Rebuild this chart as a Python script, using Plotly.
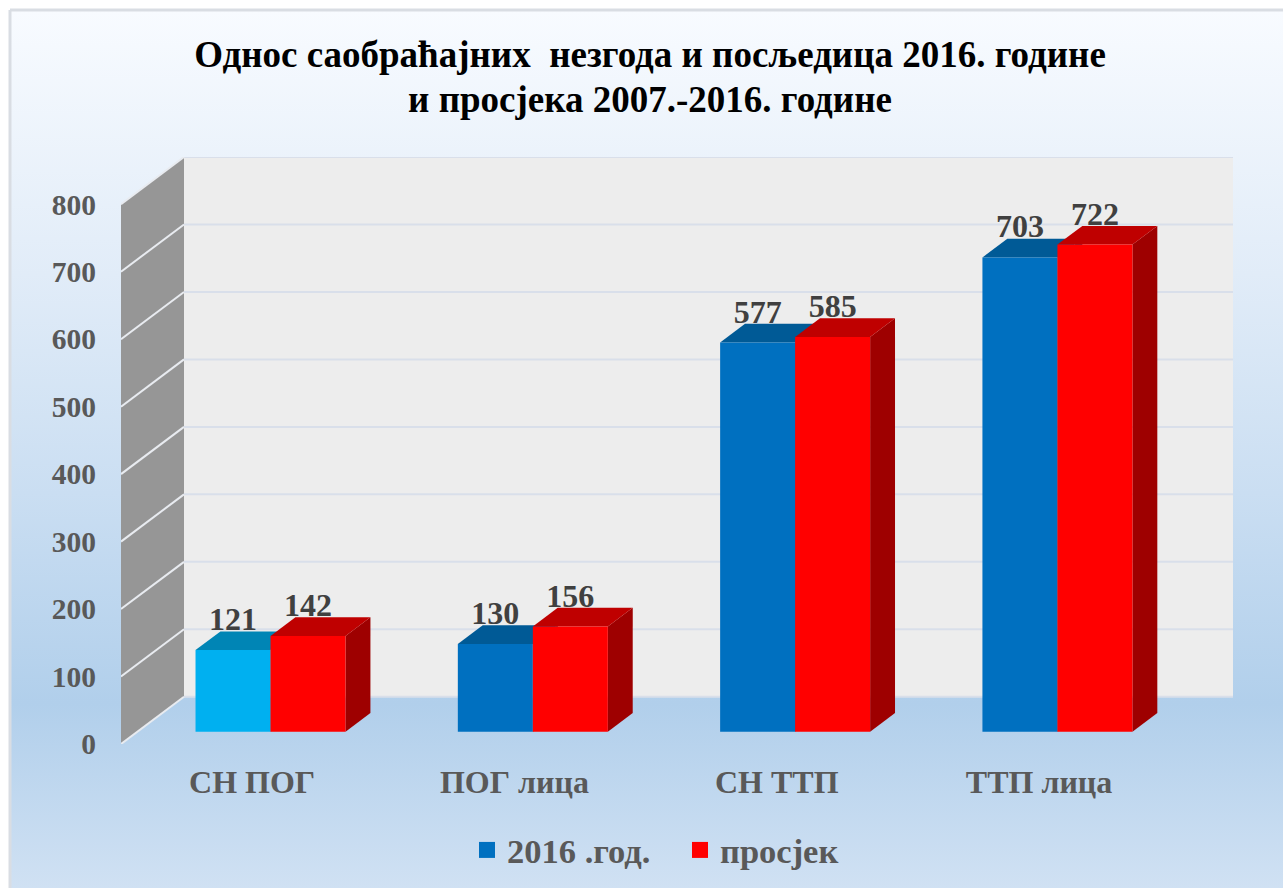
import plotly.graph_objects as go

# ---- data ----
categories = ["СН ПОГ", "ПОГ лица", "СН ТТП", "ТТП лица"]
series_2016 = [121, 130, 577, 703]
series_avg = [142, 156, 585, 722]
name_2016 = "2016 .год."
name_avg = "просјек"
y_ticks = [0, 100, 200, 300, 400, 500, 600, 700, 800]
title_lines = ["Однос саобраћајних  незгода и посљедица 2016. године",
               "и просјека 2007.-2016. године"]

# ---- colours ----
blue = ("#0070c0", "#005a96", "#004f85")
cyan = ("#00b0f0", "#0085b5", "#00749e")
red = ("#ff0000", "#bf0000", "#9e0000")
first_point_colours = cyan
grey_text = "#595959"
dark_text = "#404040"
wall_back = "#ededed"
wall_side = "#969696"
grid_back = "#d9dfea"
grid_side = "#e8ebf0"
border = "#d9dde3"
bg_stops = [[0.0, "#d0e1f3"], [0.21, "#b1cfeb"], [0.45, "#cadef2"],
            [0.7, "#e1ecf8"], [1.0, "#f8fbff"]]

# ---- page geometry (pixels) ----
W, H = 1283, 888
AX_L, AX_R, AX_B, AX_T = 121, 1233, 744, 157
CAT_PX = 262.3
DEPTH_X_PX = 63
DEPTH_Y_UNITS = 70
FONT = "Liberation Serif"

x_span = (AX_R - AX_L) / CAT_PX
x_range = [-0.5, -0.5 + x_span]
y_range = [0, 800 + DEPTH_Y_UNITS]
DX = DEPTH_X_PX / CAT_PX
DY = DEPTH_Y_UNITS
BAR_W = 75 / CAT_PX
BAR_SHIFT = 2 / CAT_PX
D0 = 0.26       # depth fraction of bars' front
D1 = 0.655      # depth fraction of bars' back
LABEL_DROP = 10  # value units between a bar's back-top edge and its label anchor


def proj(x, v, d):
    return x + d * DX, v + d * DY


def poly(points, colour):
    xs = [p[0] for p in points] + [points[0][0]]
    ys = [p[1] for p in points] + [points[0][1]]
    return go.Scatter(x=xs, y=ys, xaxis="x2", yaxis="y2", mode="lines", fill="toself",
                      fillcolor=colour, line=dict(width=0, color=colour),
                      showlegend=False, hoverinfo="skip")


def seg(a, b, colour, width=2):
    return go.Scatter(x=[a[0], b[0]], y=[a[1], b[1]], xaxis="x2", yaxis="y2", mode="lines",
                      line=dict(color=colour, width=width), showlegend=False, hoverinfo="skip")


fig = go.Figure()

# page background
fig.add_trace(go.Scatter(x=[0, 1, 1, 0, 0], y=[0, 0, 1, 1, 0], xaxis="x", yaxis="y",
                         mode="lines", line=dict(width=0), fill="toself",
                         fillgradient=dict(type="vertical", colorscale=bg_stops),
                         showlegend=False, hoverinfo="skip"))

# walls
xl, xr = x_range[0], x_range[0] + x_span - DX
fig.add_trace(poly([proj(xl, 0, 1), proj(xr, 0, 1), proj(xr, 800, 1), proj(xl, 800, 1)], wall_back))
fig.add_trace(poly([proj(xl, 0, 0), proj(xl, 0, 1), proj(xl, 800, 1), proj(xl, 800, 0)], wall_side))
for t in y_ticks:
    fig.add_trace(seg(proj(xl, t, 1), proj(xr, t, 1), grid_back))
    fig.add_trace(seg(proj(xl, t, 0), proj(xl, t, 1), grid_side))

# bars
label_x, label_y, label_t = [], [], []
for i, cat in enumerate(categories):
    for j, (vals, cols) in enumerate(((series_2016, blue), (series_avg, red))):
        v = vals[i]
        c = first_point_colours if (i == 0 and j == 0) else cols
        x0 = i - BAR_W + j * BAR_W + BAR_SHIFT
        x1 = x0 + BAR_W
        fig.add_trace(poly([proj(x1, 0, D0), proj(x1, 0, D1), proj(x1, v, D1), proj(x1, v, D0)], c[2]))
        fig.add_trace(poly([proj(x0, v, D0), proj(x1, v, D0), proj(x1, v, D1), proj(x0, v, D1)], c[1]))
        fig.add_trace(poly([proj(x0, 0, D0), proj(x1, 0, D0), proj(x1, v, D0), proj(x0, v, D0)], c[0]))
        lx, ly = proj((x0 + x1) / 2, v, D1)
        label_x.append(lx - (D1 - D0) * DX)
        label_y.append(ly - LABEL_DROP)
        label_t.append(str(v))

fig.add_trace(go.Scatter(x=label_x, y=label_y, text=label_t, xaxis="x2", yaxis="y2",
                         mode="text", textposition="top center", cliponaxis=False,
                         textfont=dict(family=FONT, size=32, color=dark_text, weight=700),
                         showlegend=False, hoverinfo="skip"))

# legend entries
for nm, col in ((name_2016, blue[0]), (name_avg, red[0])):
    fig.add_trace(go.Scatter(x=[None], y=[None], xaxis="x2", yaxis="y2", mode="markers", name=nm,
                             marker=dict(symbol="square", size=17, color=col)))

title_html = "<br>".join(f'<span style="font-size:37px">{t}</span>' for t in title_lines)

fig.update_layout(
    width=W, height=H, margin=dict(l=0, r=0, t=0, b=0, autoexpand=False),
    paper_bgcolor="white", plot_bgcolor="rgba(0,0,0,0)",
    title=dict(text=title_html, x=650 / W, xanchor="center", y=1 - 67 / H, yanchor="middle",
               font=dict(family=FONT, size=34.6, color="black", weight=700)),
    xaxis=dict(domain=[11 / W, 1], range=[0, 1], visible=False, fixedrange=True),
    yaxis=dict(domain=[0, 1 - 11 / H], range=[0, 1], visible=False, fixedrange=True),
    xaxis2=dict(domain=[AX_L / W, AX_R / W], range=x_range, anchor="y2",
                tickmode="array", tickvals=list(range(len(categories))), ticktext=categories,
                ticks="outside", ticklen=10, tickcolor="rgba(0,0,0,0)",
                showgrid=False, zeroline=False, showline=False,
                tickfont=dict(family=FONT, size=32, color=grey_text, weight=700)),
    yaxis2=dict(domain=[1 - AX_B / H, 1 - AX_T / H], range=y_range, anchor="x2",
                tickmode="array", tickvals=y_ticks,
                ticks="outside", ticklen=18, tickcolor="rgba(0,0,0,0)",
                showgrid=False, zeroline=False, showline=False,
                tickfont=dict(family=FONT, size=29.5, color=grey_text, weight=700)),
    legend=dict(orientation="h", x=467 / W, xanchor="left", y=1 - 850 / H, yanchor="middle",
                bgcolor="rgba(0,0,0,0)", itemwidth=30, traceorder="normal",
                entrywidth=168, entrywidthmode="pixels",
                font=dict(family=FONT, size=34.5, color=grey_text, weight=700)),
    shapes=[
        dict(type="line", xref="paper", yref="paper", x0=10 / W, x1=10 / W, y0=0, y1=1 - 10 / H,
             line=dict(color=border, width=3), layer="above"),
        dict(type="line", xref="paper", yref="paper", x0=10 / W, x1=1, y0=1 - 10 / H, y1=1 - 10 / H,
             line=dict(color=border, width=3), layer="above"),
    ],
)

fig.write_html("out.html", config=dict(displayModeBar=False),
               post_script="document.body.style.margin='0';document.documentElement.style.overflow='hidden';")
